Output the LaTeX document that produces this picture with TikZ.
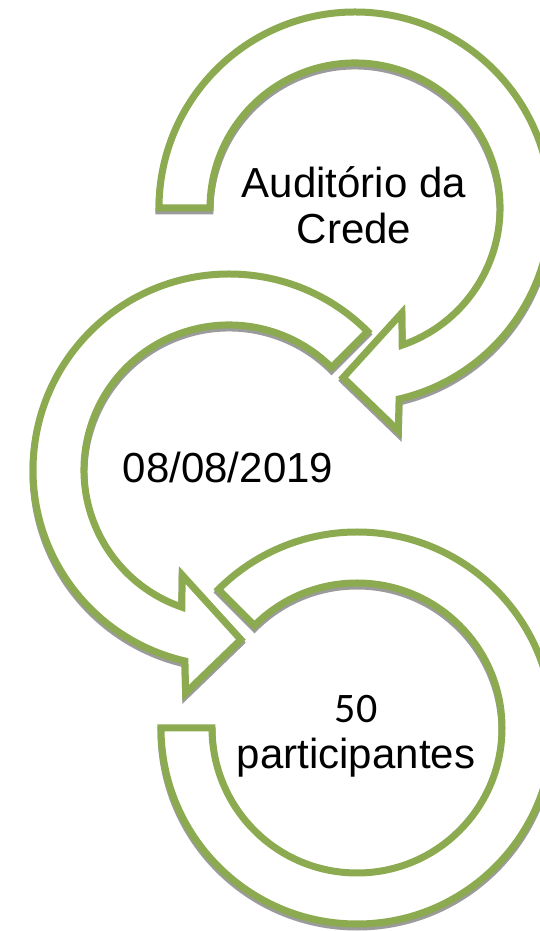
\documentclass[tikz,border=0pt]{standalone}
\usepackage{fontspec}
\setmainfont{Liberation Sans}
\newfontfamily\calib{Carlito}
\usepackage{tikz}
\usetikzlibrary{calc,positioning}
\definecolor{leaf}{RGB}{140,171,80}
\definecolor{shadowgrey}{RGB}{155,155,155}

% the three bent arrows, each drawn round its own centre
\newcommand{\arrowone}{(180:196) arc[start angle=180,end angle=-77,radius=196] -- (-79:227) -- (-94:170) -- (-66:115) -- (-71:145) arc[start angle=-71,end angle=180,radius=145] -- cycle}
\newcommand{\arrowtwo}{(45:196) arc[start angle=45,end angle=257,radius=196] -- (259:227) -- (274:170) -- (246:115) -- (251:145) arc[start angle=251,end angle=45,radius=145] -- cycle}
\newcommand{\arrowthree}{(180:196) arc[start angle=180,end angle=495,radius=196] -- (135:145) arc[start angle=495,end angle=180,radius=145] -- cycle}

\begin{document}
\begin{tikzpicture}[x=1pt,y=1pt]
\tikzstyle{band}=[draw=leaf,fill=white,line width=7pt,miter limit=20]
\tikzstyle{shd}=[draw=shadowgrey,line width=7pt,miter limit=20,yshift=-3]
\tikzstyle{lbl}=[inner sep=0pt,align=center,font=\fontsize{42}{46}\selectfont]
\useasboundingbox (0,0) rectangle (539,931);
\fill[white] (0,0) rectangle (539,931);

\coordinate (c1) at (355,723);
\coordinate (c2) at (229,461);
\coordinate (c3) at (357,203);

\begin{scope}[shift={(c1)}]
\draw[shd] \arrowone;
\draw[band] \arrowone;
\end{scope}
\begin{scope}[shift={(c2)}]
\draw[shd] \arrowtwo;
\draw[band] \arrowtwo;
\end{scope}
\begin{scope}[shift={(c3)}]
\draw[shd] \arrowthree;
\draw[band] \arrowthree;
\end{scope}

\node[lbl] (place) at (354,726) {Auditório da\\Crede};
\node[lbl,anchor=base] (date) at (228,448) {08/08/2019};
\node[lbl] (people) at (356,195) {{\calib 50}\\participantes};
%\node[lbl] (x) at (0,0) {};
\end{tikzpicture}
\end{document}
